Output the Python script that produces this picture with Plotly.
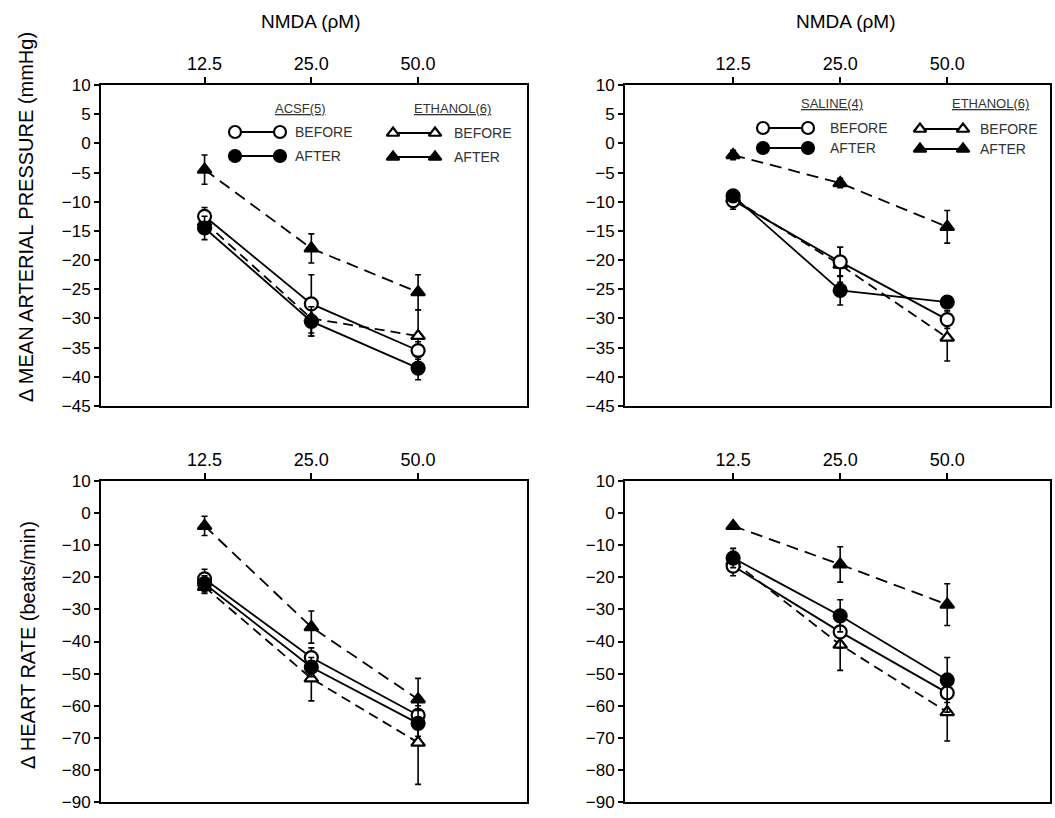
import plotly.graph_objects as go

W, H = 1055, 818
doses = ["12.5", "25.0", "50.0"]

# Top-left: MAP, ACSF(5) vs ETHANOL(6)
tl_ctrl_before = [-12.5, -27.5, -35.5]
tl_ctrl_before_err = [1.5, 5.0, 1.5]
tl_ctrl_after = [-14.5, -30.5, -38.5]
tl_ctrl_after_err = [2.0, 2.5, 2.0]
tl_eth_before = [-13.5, -30.0, -33.0]
tl_eth_before_err = [2.0, 3.0, 4.5]
tl_eth_after = [-4.5, -18.0, -25.5]
tl_eth_after_err = [2.5, 2.5, 3.0]

# Top-right: MAP, SALINE(4) vs ETHANOL(6)
tr_ctrl_before = [-9.8, -20.3, -30.2]
tr_ctrl_before_err = [1.5, 2.5, 1.5]
tr_ctrl_after = [-9.0, -25.2, -27.2]
tr_ctrl_after_err = [1.0, 2.5, 1.0]
tr_eth_before = [-9.5, -20.8, -33.3]
tr_eth_before_err = [1.5, 3.0, 4.0]
tr_eth_after = [-2.0, -6.8, -14.3]
tr_eth_after_err = [0.8, 0.8, 2.8]

# Bottom-left: HR, ACSF(5) vs ETHANOL(6)
bl_ctrl_before = [-20.5, -45.0, -63.0]
bl_ctrl_before_err = [3.0, 3.0, 3.0]
bl_ctrl_after = [-22.0, -48.0, -65.5]
bl_ctrl_after_err = [2.5, 3.0, 4.0]
bl_eth_before = [-23.0, -51.5, -71.5]
bl_eth_before_err = [2.0, 7.0, 13.0]
bl_eth_after = [-4.0, -35.5, -58.0]
bl_eth_after_err = [3.0, 5.0, 6.5]

# Bottom-right: HR, SALINE(4) vs ETHANOL(6)
br_ctrl_before = [-16.5, -37.0, -56.0]
br_ctrl_before_err = [3.0, 5.0, 6.0]
br_ctrl_after = [-14.0, -32.0, -52.0]
br_ctrl_after_err = [3.0, 5.0, 7.0]
br_eth_before = [-15.0, -41.0, -62.0]
br_eth_before_err = [3.0, 8.0, 9.0]
br_eth_after = [-4.0, -16.0, -28.5]
br_eth_after_err = [1.0, 5.5, 6.5]

# significance labels: (dose index, y position, text)
tl_sig = [(0, 1.0, "*#"), (1, -12.5, "*#"), (2, -20.5, "#")]
tr_sig = [(0, 2.2, "*#"), (1, -3.5, "*#"), (2, -8.5, "*#")]
bl_sig = [(0, 3.0, "*#"), (1, -23.0, "*#")]
br_sig = [(0, 3.0, "*#"), (1, -4.5, "*#"), (2, -16.0, "*#")]

FONT = "Liberation Sans, Arial, sans-serif"

def px(x):
    return x / W

def py(y):
    return 1 - y / H

fig = go.Figure()

panels = [
    ("x", "y", tl_ctrl_before, tl_ctrl_before_err, tl_ctrl_after, tl_ctrl_after_err,
     tl_eth_before, tl_eth_before_err, tl_eth_after, tl_eth_after_err, tl_sig),
    ("x2", "y2", tr_ctrl_before, tr_ctrl_before_err, tr_ctrl_after, tr_ctrl_after_err,
     tr_eth_before, tr_eth_before_err, tr_eth_after, tr_eth_after_err, tr_sig),
    ("x3", "y3", bl_ctrl_before, bl_ctrl_before_err, bl_ctrl_after, bl_ctrl_after_err,
     bl_eth_before, bl_eth_before_err, bl_eth_after, bl_eth_after_err, bl_sig),
    ("x4", "y4", br_ctrl_before, br_ctrl_before_err, br_ctrl_after, br_ctrl_after_err,
     br_eth_before, br_eth_before_err, br_eth_after, br_eth_after_err, br_sig),
]

def add_series(xa, ya, vals, errs, symbol, fill, dash):
    fig.add_trace(go.Scatter(
        x=doses, y=vals, xaxis=xa, yaxis=ya, mode="lines+markers",
        line=dict(color="black", width=1.8, dash=dash),
        marker=dict(symbol=symbol, size=13 if "circle" in symbol else 12,
                    color=fill, line=dict(color="black", width=2.2)),
        error_y=dict(type="data", array=errs, visible=True, color="black",
                     thickness=1.6, width=3),
        showlegend=False, hoverinfo="skip"))

annotations = []
for (xa, ya, cb, cbe, ca, cae, eb, ebe, ea, eae, sig) in panels:
    add_series(xa, ya, eb, ebe, "triangle-up", "white", "10px,6px")
    add_series(xa, ya, ea, eae, "triangle-up", "black", "12px,7px")
    add_series(xa, ya, cb, cbe, "circle", "white", "solid")
    add_series(xa, ya, ca, cae, "circle", "black", "solid")
    for (i, yv, t) in sig:
        annotations.append(dict(x=doses[i], y=yv, xref=xa, yref=ya, text="<b>" + t + "</b>",
                                showarrow=False, font=dict(family=FONT, size=14, color="black")))

# Legend drawn in an overlay pixel-coordinate axis
leg_rows = [
    # (x1, x2, y, symbol, fill)
    (235, 280, 132, "circle", "white"),
    (235, 280, 156, "circle", "black"),
    (393, 435, 133, "triangle-up", "white"),
    (393, 435, 157, "triangle-up", "black"),
    (763, 808, 128, "circle", "white"),
    (763, 808, 148, "circle", "black"),
    (920, 963, 129, "triangle-up", "white"),
    (920, 963, 149, "triangle-up", "black"),
]
for (x1, x2, yy, sym, fill) in leg_rows:
    fig.add_trace(go.Scatter(
        x=[x1, x2], y=[yy, yy], xaxis="x5", yaxis="y5", mode="lines+markers",
        line=dict(color="black", width=2),
        marker=dict(symbol=sym, size=12 if sym == "circle" else 11, color=fill,
                    line=dict(color="black", width=2.2)),
        showlegend=False, hoverinfo="skip"))

leg_texts = [
    (293, 132, "BEFORE"), (293, 156, "AFTER"),
    (452, 133, "BEFORE"), (452, 157, "AFTER"),
    (828, 128, "BEFORE"), (828, 148, "AFTER"),
    (978, 129, "BEFORE"), (978, 149, "AFTER"),
]
for (x, y, t) in leg_texts:
    annotations.append(dict(x=px(x), y=py(y), xref="paper", yref="paper", text=t,
                            xanchor="left", yanchor="middle", showarrow=False,
                            font=dict(family=FONT, size=14, color="#333")))

leg_heads = [(300, 109, "ACSF(5)"), (452, 109, "ETHANOL(6)"),
             (832, 103, "SALINE(4)"), (990, 103, "ETHANOL(6)")]
for (x, y, t) in leg_heads:
    annotations.append(dict(x=px(x), y=py(y), xref="paper", yref="paper", text="<u>" + t + "</u>",
                            xanchor="center", yanchor="middle", showarrow=False,
                            font=dict(family=FONT, size=13, color="#333")))

# Titles
for (x, y, t) in [(310, 22, "NMDA (\u03c1M)"), (845, 22, "NMDA (\u03c1M)")]:
    annotations.append(dict(x=px(x), y=py(y), xref="paper", yref="paper", text=t,
                            xanchor="center", yanchor="middle",
                            showarrow=False, font=dict(family=FONT, size=19, color="black")))

annotations.append(dict(x=px(26), y=py(217), xref="paper", yref="paper",
                        xanchor="center", yanchor="middle",
                        text="\u0394 MEAN ARTERIAL PRESSURE (mmHg)", textangle=-90,
                        showarrow=False, font=dict(family=FONT, size=20, color="black")))
annotations.append(dict(x=px(28), y=py(645), xref="paper", yref="paper",
                        xanchor="center", yanchor="middle",
                        text="\u0394 HEART RATE (beats/min)", textangle=-90,
                        showarrow=False, font=dict(family=FONT, size=20, color="black")))

xl = [px(101), px(527)]
xr = [px(625), px(1050)]
yt = [py(406), py(85)]
yb = [py(802), py(481)]

def xaxis_cfg(domain, anchor, rng):
    return dict(domain=domain, anchor=anchor, side="top", type="category",
                range=rng, showline=True, mirror=True, linecolor="black", linewidth=2,
                ticks="outside", ticklen=6, tickwidth=2, tickcolor="black",
                showgrid=False, zeroline=False,
                tickfont=dict(family=FONT, size=18, color="black"))

def yaxis_cfg(domain, anchor, rng, dtick):
    return dict(domain=domain, anchor=anchor, range=rng, dtick=dtick, tick0=10,
                showline=True, mirror=True, linecolor="black", linewidth=2,
                ticks="outside", ticklen=5, tickwidth=2, tickcolor="black",
                showgrid=False, zeroline=False,
                tickfont=dict(family=FONT, size=17, color="black"))

rng_l = [-0.97, 3.02]
rng_r = [-1.01, 2.96]

fig.update_layout(
    width=W, height=H, autosize=False,
    margin=dict(l=0, r=0, t=0, b=0, autoexpand=False),
    paper_bgcolor="white", plot_bgcolor="rgba(0,0,0,0)",
    showlegend=False,
    font=dict(family=FONT, color="black"),
    xaxis=xaxis_cfg(xl, "y", rng_l),
    yaxis=yaxis_cfg(yt, "x", [-45, 10], 5),
    xaxis2=xaxis_cfg(xr, "y2", rng_r),
    yaxis2=yaxis_cfg(yt, "x2", [-45, 10], 5),
    xaxis3=xaxis_cfg(xl, "y3", rng_l),
    yaxis3=yaxis_cfg(yb, "x3", [-90, 10], 10),
    xaxis4=xaxis_cfg(xr, "y4", rng_r),
    yaxis4=yaxis_cfg(yb, "x4", [-90, 10], 10),
    xaxis5=dict(domain=[0, 1], anchor="y5", range=[0, W], visible=False, fixedrange=True),
    yaxis5=dict(domain=[0, 1], anchor="x5", range=[H, 0], visible=False, fixedrange=True),
    annotations=annotations,
)

fig.write_html("out.html", config={"responsive": False, "displayModeBar": False},
               post_script="document.body.style.margin='0px';document.body.style.overflow='hidden';")
